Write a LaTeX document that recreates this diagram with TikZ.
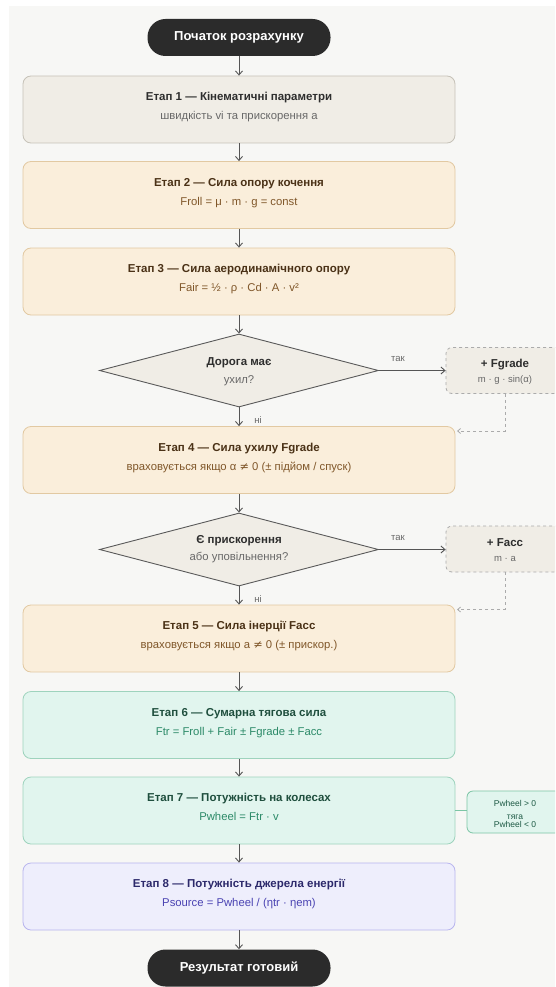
\documentclass[tikz,border=0pt]{standalone}
\usepackage{fontspec}
\setmainfont{Liberation Sans}
\newfontfamily\symfont{DejaVu Sans}
\newcommand\neqsym{{\symfont ≠}}
\usetikzlibrary{arrows.meta,shapes.geometric,calc}
\definecolor{bgc}{HTML}{F7F7F5}
\definecolor{pillc}{HTML}{2B2B2B}
\definecolor{grayfill}{HTML}{F0EDE6}
\definecolor{grayline}{HTML}{C6C2B8}
\definecolor{graytitle}{HTML}{2E2E2E}
\definecolor{graysub}{HTML}{686868}
\definecolor{cremefill}{HTML}{FAEEDB}
\definecolor{cremeline}{HTML}{E2C9A2}
\definecolor{cremetitle}{HTML}{4A3116}
\definecolor{cremesub}{HTML}{80572A}
\definecolor{greenfill}{HTML}{E1F5EE}
\definecolor{greenline}{HTML}{9ED3BD}
\definecolor{greentitle}{HTML}{1F4F3E}
\definecolor{greensub}{HTML}{2C8A68}
\definecolor{pwline}{HTML}{7CC5A5}
\definecolor{pwtext}{HTML}{1E5A45}
\definecolor{violetfill}{HTML}{EEEEFC}
\definecolor{violetline}{HTML}{B8B5EE}
\definecolor{violettitle}{HTML}{2C296B}
\definecolor{violetsub}{HTML}{4A43B2}
\definecolor{arrowc}{HTML}{555555}
\definecolor{dashc}{HTML}{ABABAB}
\definecolor{diamline}{HTML}{5A5A5A}
\tikzset{
  stagebox/.style={draw, rounded corners=8pt, minimum width=432pt, minimum height=67pt, inner sep=0pt, line width=0.8pt},
  graybox/.style={stagebox, fill=grayfill, draw=grayline},
  cremebox/.style={stagebox, fill=cremefill, draw=cremeline},
  greenbox/.style={stagebox, fill=greenfill, draw=greenline},
  violetbox/.style={stagebox, fill=violetfill, draw=violetline},
  ttl/.style={font=\fontsize{11.5}{13}\selectfont\bfseries, inner sep=0pt, text height=8pt, text depth=0pt},
  stsub/.style={font=\fontsize{11.3}{13}\selectfont, inner sep=0pt, text height=8pt, text depth=0pt},
  pill/.style={fill=pillc, rounded corners=18pt, minimum width=183pt, minimum height=37pt, inner sep=0pt, text=white, font=\fontsize{13}{15}\selectfont\bfseries},
  decision/.style={diamond, draw=diamline, fill=grayfill, minimum width=279pt, minimum height=73pt, inner sep=0pt, line width=0.9pt},
  optbox/.style={draw=dashc, dashed, fill=grayfill, rounded corners=6pt, minimum width=118pt, minimum height=46pt, inner sep=0pt, line width=0.8pt},
  arr/.style={draw=arrowc, line width=0.9pt, -{Straight Barb[length=4pt,width=7pt]}},
  darr/.style={draw=dashc, dashed, line width=0.8pt, -{Straight Barb[length=3pt,width=5pt]}},
  elabel/.style={font=\fontsize{9.5}{11}\selectfont, text=graysub, inner sep=0pt},
}
\newcommand\mystage[7]{%
  \node[#3] (#1) at (239,#2) {};
  \node[ttl, text=#6] (#1t) at (239,{#2-13}) {#4};
  \node[stsub, text=#7] (#1s) at (239,{#2+6}) {#5};
}
\begin{document}
\begin{tikzpicture}[x=1pt,y=-1pt]
\useasboundingbox (0,0) rectangle (555,987);
\clip (0,0) rectangle (555,987);
\fill[bgc] (9,6) rectangle (555,987);

\node[pill] (start) at (239,37.5) {Початок розрахунку};
\mystage{s1}{109.5}{graybox}{Етап 1 — Кінематичні параметри}{швидкість vі та прискорення a}{graytitle}{graysub}
\mystage{s2}{195}{cremebox}{Етап 2 — Сила опору кочення}{Froll = μ · m · g = const}{cremetitle}{cremesub}
\mystage{s3}{281.5}{cremebox}{Етап 3 — Сила аеродинамічного опору}{Fair = ½ · ρ · Cd · A · v²}{cremetitle}{cremesub}

\node[decision] (d1) at (239,370.5) {};
\node[ttl, text=graytitle] (d1t) at (239,361) {Дорога має};
\node[stsub, text=graysub] (d1s) at (239,379) {ухил?};

\node[optbox] (fg) at (505,370.5) {};
\node[ttl, text=graytitle] (fgt) at (505,363) {+ Fgrade};
\node[stsub, text=graysub, font=\fontsize{9.5}{11}\selectfont] (fgs) at (505,378.5) {m · g · sin(α)};

\mystage{s4}{460}{cremebox}{Етап 4 — Сила ухилу Fgrade}{враховується якщо α \neqsym{} 0 (± підйом / спуск)}{cremetitle}{cremesub}

\node[decision] (d2) at (239,549.5) {};
\node[ttl, text=graytitle] (d2t) at (239,539) {Є прискорення};
\node[stsub, text=graysub] (d2s) at (239,556.5) {або уповільнення?};

\node[optbox] (fa) at (505,549) {};
\node[ttl, text=graytitle] (fat) at (505,542) {+ Facc};
\node[stsub, text=graysub, font=\fontsize{9.5}{11}\selectfont] (fas) at (505,557) {m · a};

\mystage{s5}{638.5}{cremebox}{Етап 5 — Сила інерції Facc}{враховується якщо a \neqsym{} 0 (± прискор.)}{cremetitle}{cremesub}
\mystage{s6}{725}{greenbox}{Етап 6 — Сумарна тягова сила}{Ftr = Froll + Fair ± Fgrade ± Facc}{greentitle}{greensub}
\mystage{s7}{810.5}{greenbox}{Етап 7 — Потужність на колесах}{Pwheel = Ftr · v}{greentitle}{greensub}

\node[draw=pwline, fill=greenfill, rounded corners=6pt, minimum width=96pt, minimum height=42pt, line width=0.8pt] (pw) at (515,812) {};
\node[anchor=base, inner sep=0pt, font=\fontsize{8.5}{9}\selectfont, text=pwtext] (pw1) at (515,806.5) {Pwheel > 0};
\node[anchor=base, inner sep=0pt, font=\fontsize{8.5}{9}\selectfont, text=pwtext] (pw2) at (515,819) {тяга};
\node[anchor=base, inner sep=0pt, font=\fontsize{8.5}{9}\selectfont, text=pwtext] (pw3) at (515,827.5) {Pwheel < 0};

\mystage{s8}{896.5}{violetbox}{Етап 8 — Потужність джерела енергії}{Psource = Pwheel / (ηtr · ηem)}{violettitle}{violetsub}

\node[pill] (end) at (239,968) {Результат готовий};

% connectors
\draw[arr] (start) -- (s1);
\draw[arr] (s1) -- (s2);
\draw[arr] (s2) -- (s3);
\draw[arr] (s3) -- (d1);
\draw[arr] (d1) -- (s4);
\draw[arr] (d1.east) -- (fg.west);
\coordinate (j1) at (457,431);
\draw[darr] (fg.south) |- (j1);
\draw[arr] (s4) -- (d2);
\draw[arr] (d2) -- (s5);
\draw[arr] (d2.east) -- (fa.west |- d2.east);
\coordinate (j2) at (457,609.5);
\draw[darr] (fa.south) |- (j2);
\draw[arr] (s5) -- (s6);
\draw[arr] (s6) -- (s7);
\draw[draw=pwline, line width=0.9pt] (s7.east) -- (s7.east -| pw.west);
\draw[arr] (s7) -- (s8);
\draw[arr] (s8) -- (end);

\node[elabel] (yes1) at (398,359) {так};
\node[elabel] (no1) at (258,420) {ні};
\node[elabel] (yes2) at (398,538) {так};
\node[elabel] (no2) at (258,599) {ні};
\end{tikzpicture}
\end{document}
